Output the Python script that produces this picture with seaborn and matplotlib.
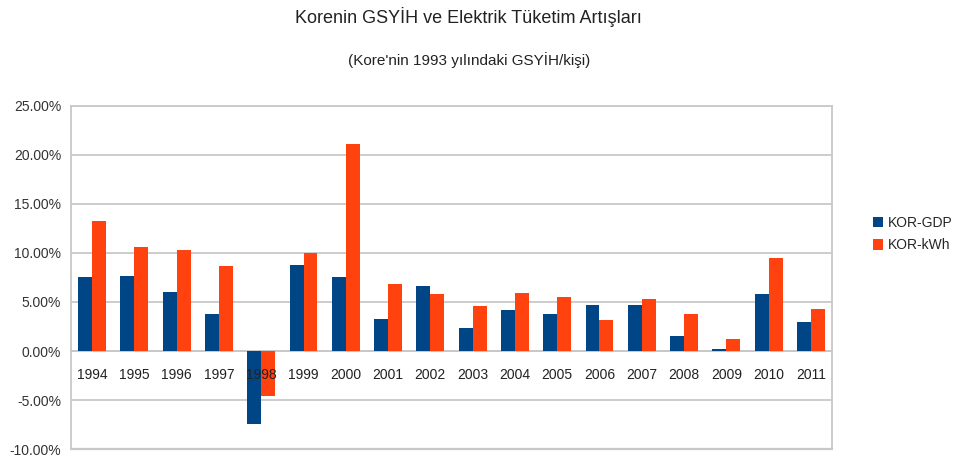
import matplotlib
matplotlib.use("Agg")
import matplotlib.pyplot as plt
import seaborn as sns
import pandas as pd
import numpy as np

years = ["1994", "1995", "1996", "1997", "1998", "1999", "2000", "2001", "2002",
         "2003", "2004", "2005", "2006", "2007", "2008", "2009", "2010", "2011"]
gdp = [7.58, 7.65, 5.99, 3.73, -7.44, 8.73, 7.58, 3.25, 6.60,
       2.30, 4.23, 3.80, 4.71, 4.64, 1.56, 0.20, 5.83, 2.94]
kwh = [13.20, 10.56, 10.29, 8.67, -4.57, 9.99, 21.06, 6.84, 5.83,
       4.57, 5.96, 5.52, 3.19, 5.28, 3.76, 1.26, 9.48, 4.30]
series_names = ["KOR-GDP", "KOR-kWh"]
colors = ["#004586", "#ff420e"]
yticks = [-10, -5, 0, 5, 10, 15, 20, 25]

df = pd.DataFrame({
    "year": years * 2,
    "value": gdp + kwh,
    "series": [series_names[0]] * len(years) + [series_names[1]] * len(years),
})

sns.set_style("white")
plt.rcParams["font.family"] = ["Liberation Sans", "DejaVu Sans"]

fig = plt.figure(figsize=(9.59, 4.57), dpi=100)
ax = fig.add_axes([71 / 959, 1 - 449.3 / 457, (832 - 71) / 959, (449.3 - 105.5) / 457])

sns.barplot(data=df, x="year", y="value", hue="series", palette=colors,
            width=0.66, gap=0, ax=ax, saturation=1, legend=True, linewidth=0)

gc = "#c8c8c8"
ax.set_ylim(-10, 25)
ax.set_xlim(-0.5, len(years) - 0.5)
ax.set_yticks(yticks)
ax.set_yticklabels([f"{v:.2f}%" for v in yticks], fontsize=10, color="#333333")
ax.yaxis.grid(True, color=gc, linewidth=1.3)
ax.set_axisbelow(True)
ax.axhline(-10, color=gc, linewidth=1.6, clip_on=False, zorder=0)

for s in ["left", "right", "top"]:
    ax.spines[s].set_color(gc)
    ax.spines[s].set_linewidth(1.3)
ax.spines["bottom"].set_position(("data", 0))
ax.spines["bottom"].set_color(gc)
ax.spines["bottom"].set_linewidth(1.3)
ax.spines["bottom"].set_zorder(0.5)

ax.set_xticks(range(len(years)))
ax.set_xticklabels(years, fontsize=10, color="#222222")
ax.set_xticks(np.arange(-0.5, len(years), 1.0), minor=True)
ax.tick_params(axis="x", which="major", length=0, pad=12)
ax.tick_params(axis="x", which="minor", length=5, color=gc, width=1.2, direction="out")
ax.tick_params(axis="y", length=5, color=gc, width=1.2, direction="out", pad=2)
ax.xaxis.set_zorder(3)
ax.set_xlabel("")
ax.set_ylabel("")

handles, labels = ax.get_legend_handles_labels()
ax.legend_.remove()
fig.legend(handles, labels, loc="center left", bbox_to_anchor=(873 / 959, 1 - 234 / 457),
           frameon=False, fontsize=10, handlelength=0.75, handleheight=0.75,
           handletextpad=0.3, labelspacing=0.62, borderpad=0, borderaxespad=0)

fig.text(468 / 959, 1 - 17 / 457, "Korenin GSYİH ve Elektrik Tüketim Artışları",
         ha="center", va="center", fontsize=13, color="#222222")
fig.text(469 / 959, 1 - 60 / 457, "(Kore'nin 1993 yılındaki GSYİH/kişi)",
         ha="center", va="center", fontsize=11, color="#222222")

fig.savefig("out.png", dpi=100)
